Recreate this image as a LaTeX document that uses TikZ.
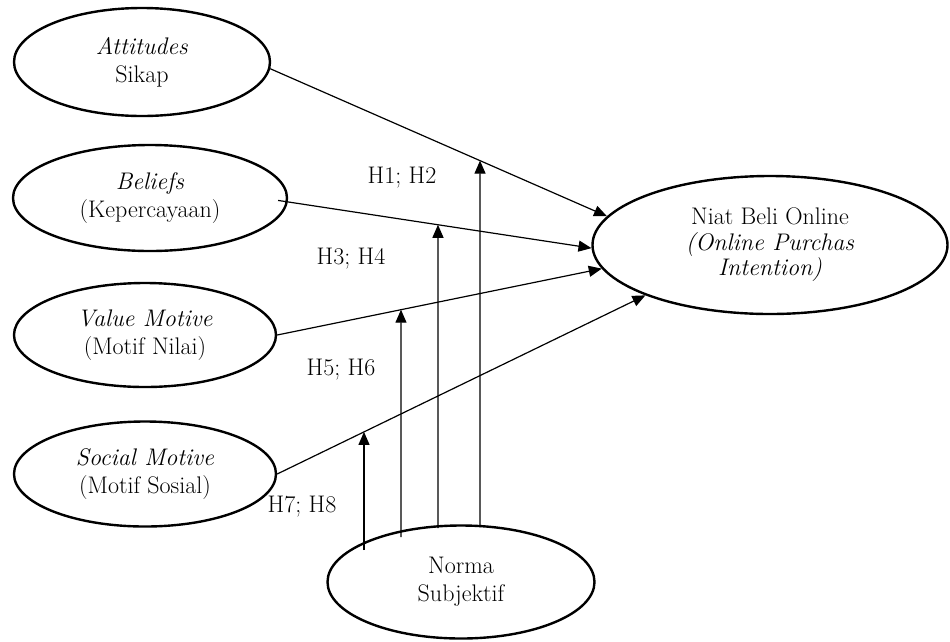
\documentclass[tikz,border=0pt]{standalone}
\usetikzlibrary{shapes.geometric,arrows.meta,calc}
\begin{document}
\begin{tikzpicture}[x=1pt,y=-1pt,
  lat/.style={draw, ellipse, line width=2.4pt, inner sep=0pt, align=center,
    font=\fontsize{24}{28}\selectfont},
  conn/.style={line width=1.2pt, -{Triangle[length=13pt,width=11pt]}},
  hlab/.style={font=\fontsize{24}{28}\selectfont, inner sep=0pt}]
\useasboundingbox (0,0) rectangle (950,641);

% latent variables
\node[lat, minimum width=256pt, minimum height=108pt] (att) at (142,62) {\textit{Attitudes}\\Sikap};
\node[lat, minimum width=274pt, minimum height=106pt] (bel) at (150,198) {\textit{Beliefs}\\(Kepercayaan)};
\node[lat, minimum width=262pt, minimum height=104pt] (val) at (145,335) {\textit{Value Motive}\\(Motif Nilai)};
\node[lat, minimum width=262pt, minimum height=105pt] (soc) at (145,474) {\textit{Social Motive}\\(Motif Sosial)};
\node[lat, minimum width=355pt, minimum height=138pt, font=\fontsize{24}{25.5}\selectfont] (niat) at (770,245)
  {Niat Beli Online\\\textit{(Online Purchas}\\\textit{Intention)}};
\node[lat, minimum width=267pt, minimum height=113pt] (norma) at (461,582) {Norma\\Subjektif};

% connector end points
\coordinate (attS) at (att.-3.4);
\coordinate (attE) at (niat.170.7);
\coordinate (belS) at ($(bel.-1.8)+(-10,0)$);
\coordinate (belE) at (niat.181);
\coordinate (valS) at (val.east);
\coordinate (valE) at (niat.188.5);
\coordinate (socS) at (soc.east);
\coordinate (socE) at (niat.202.6);

\draw[conn] (attS) -- (attE);
\draw[conn] (belS) -- (belE);
\draw[conn] (valS) -- (valE);
\draw[conn] (socS) -- (socE);

% moderating arrows from Norma Subjektif
\coordinate (m1) at (364,550); \coordinate (m1t) at (364,0);
\coordinate (m2) at (401,537); \coordinate (m2t) at (401,0);
\coordinate (m3) at (438,528); \coordinate (m3t) at (438,0);
\coordinate (m4) at (480,527); \coordinate (m4t) at (480,0);

\draw[conn] (m1) -- (intersection of socS--socE and m1--m1t);
\draw[conn] (m2) -- (intersection of valS--valE and m2--m2t);
\draw[conn] (m3) -- (intersection of belS--belE and m3--m3t);
\draw[conn] (m4) -- (intersection of attS--attE and m4--m4t);

% hypothesis labels
\node[hlab] (h12) at (402,178) {H1; H2};
\node[hlab] (h34) at (351,259) {H3; H4};
\node[hlab] (h56) at (341,370) {H5; H6};
\node[hlab] (h78) at (302,507) {H7; H8};
\end{tikzpicture}
\end{document}
